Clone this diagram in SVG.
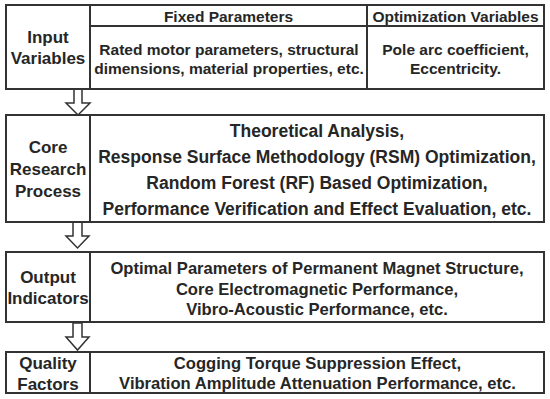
<svg xmlns="http://www.w3.org/2000/svg" width="550" height="399" viewBox="0 0 550 399">
<style>
.box{fill:#fff;stroke:#333;stroke-width:2}
.ln{stroke:#333;stroke-width:2;fill:none}
.arr{fill:#fff;stroke:#333;stroke-width:1.5;stroke-linejoin:miter}
text{font-family:"Liberation Sans",Arial,sans-serif;font-weight:bold;fill:#262626;text-anchor:middle}
.lab{font-size:17px}
.hd{font-size:15.5px}
.t1{font-size:15.5px}
.t2{font-size:17.5px}
.t3{font-size:16.6px}
.t4{font-size:16.6px}
</style>
<rect width="550" height="399" fill="#fff"/>
<g id="connectors">
<path class="arr" d="M74 89 L82 89 L82 103 L90 103 L78 115 L66 103 L74 103 Z"/>
<path class="arr" d="M73 222 L82 222 L82 236 L89 236 L77.5 248 L66 236 L73 236 Z"/>
<path class="arr" d="M73 323 L82 323 L82 337 L89 337 L77.5 350 L66 337 L73 337 Z"/>
</g>
<g id="input-variables">
<rect class="box" x="6" y="5" width="538" height="84"/>
<line class="ln" x1="90" y1="5" x2="90" y2="89"/>
<line class="ln" x1="90" y1="26" x2="544" y2="26"/>
<line class="ln" x1="367" y1="5" x2="367" y2="89"/>
<text class="lab" x="48" y="43">Input</text>
<text class="lab" x="48" y="64">Variables</text>
<text class="hd" x="228.5" y="21.5">Fixed Parameters</text>
<text class="hd" x="455.5" y="21.5">Optimization Variables</text>
<text class="t1" x="229" y="55">Rated motor parameters, structural</text>
<text class="t1" x="229" y="74">dimensions, material properties, etc.</text>
<text class="t1" x="455.5" y="55">Pole arc coefficient,</text>
<text class="t1" x="455.5" y="74">Eccentricity.</text>
</g>
<g id="core-research-process">
<rect class="box" x="6" y="115" width="538" height="107"/>
<line class="ln" x1="90" y1="115" x2="90" y2="222"/>
<text class="lab" x="48" y="153">Core</text>
<text class="lab" x="48" y="175">Research</text>
<text class="lab" x="48" y="197">Process</text>
<text class="t2" x="317" y="137">Theoretical Analysis,</text>
<text class="t2" x="317" y="163">Response Surface Methodology (RSM) Optimization,</text>
<text class="t2" x="317" y="189">Random Forest (RF) Based Optimization,</text>
<text class="t2" x="317" y="215">Performance Verification and Effect Evaluation, etc.</text>
</g>
<g id="output-indicators">
<rect class="box" x="6" y="252" width="538" height="70"/>
<line class="ln" x1="90" y1="252" x2="90" y2="322"/>
<text class="lab" x="48" y="283">Output</text>
<text class="lab" x="48" y="304">Indicators</text>
<text class="t3" x="317" y="274">Optimal Parameters of Permanent Magnet Structure,</text>
<text class="t3" x="317" y="294.5">Core Electromagnetic Performance,</text>
<text class="t3" x="317" y="315">Vibro-Acoustic Performance, etc.</text>
</g>
<g id="quality-factors">
<rect class="box" x="6" y="352" width="538" height="41"/>
<line class="ln" x1="90" y1="352" x2="90" y2="393"/>
<text class="lab" x="48" y="369">Quality</text>
<text class="lab" x="48" y="389.5">Factors</text>
<text class="t4" x="317.5" y="369">Cogging Torque Suppression Effect,</text>
<text class="t4" x="317.5" y="389">Vibration Amplitude Attenuation Performance, etc.</text>
</g>
</svg>
